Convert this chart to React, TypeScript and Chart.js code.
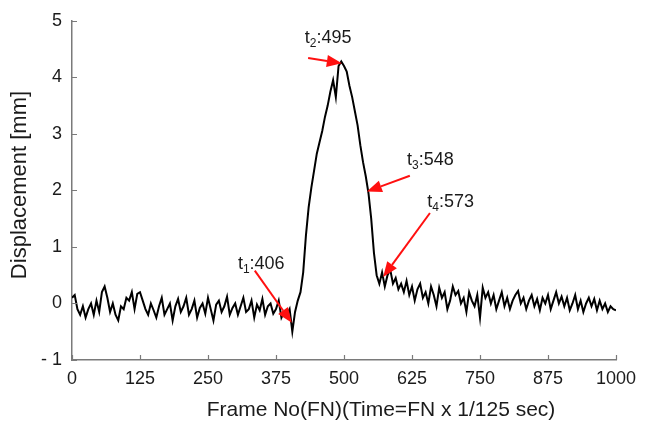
import React, { useEffect, useRef } from "react";
import { Chart, registerables } from "chart.js";

Chart.register(...registerables);

// ---------- data ----------
const X_TICKS = [0, 125, 250, 375, 500, 625, 750, 875, 1000];
const Y_TICKS = [-1, 0, 1, 2, 3, 4, 5];
const SAMPLE_STEP = 5; // frames between samples

// displacement [mm], sampled every 5 frames
const DISP_0_100 = [0.1, 0.15, -0.1, -0.2, -0.05, -0.25, -0.1, 0.0, -0.2, 0.05, -0.15, 0.2, 0.3, 0.1, -0.15, 0.0, -0.2, -0.3, -0.05, -0.1, 0.1];
const DISP_105_200 = [0.05, 0.2, -0.1, 0.17, 0.2, 0.05, -0.1, -0.2, 0.0, -0.12, -0.25, -0.05, 0.1, -0.2, -0.1, 0.0, -0.3, -0.05, 0.08, -0.15];
const DISP_205_300 = [-0.05, 0.1, -0.2, -0.1, 0.05, -0.25, -0.08, 0.0, -0.18, 0.1, -0.1, -0.3, -0.02, 0.05, -0.15, -0.05, 0.12, -0.2, -0.08, 0.0];
const DISP_305_400 = [-0.2, -0.05, 0.1, -0.15, -0.1, 0.05, -0.25, -0.02, -0.12, 0.08, -0.2, -0.05, 0.0, -0.18, -0.1, 0.05, -0.25, -0.15, -0.2, -0.1];
const DISP_405_600 = [-0.5, -0.15, 0.05, 0.2, 0.55, 1.2, 1.7, 2.05, 2.35, 2.65, 2.85, 3.05, 3.3, 3.5, 3.75, 3.95, 3.65, 4.2, 4.28, 4.2, 4.1, 3.85, 3.65, 3.4, 3.15, 2.8, 2.5, 2.25, 1.95, 1.5, 0.9, 0.5, 0.35, 0.55, 0.3, 0.5, 0.6, 0.35, 0.45, 0.25];
const DISP_605_700 = [0.35, 0.2, 0.4, 0.15, 0.3, 0.05, 0.25, 0.35, 0.1, 0.2, 0.0, 0.3, 0.15, -0.05, 0.28, 0.1, 0.2, -0.1, 0.05, 0.3];
const DISP_705_800 = [0.15, 0.22, 0.0, 0.1, -0.15, 0.2, 0.05, -0.05, 0.15, -0.25, 0.28, 0.1, 0.2, 0.0, 0.15, -0.1, 0.05, 0.2, -0.05, 0.1];
const DISP_805_900 = [-0.1, 0.05, 0.15, 0.22, 0.0, 0.1, -0.1, 0.05, 0.15, -0.05, 0.08, -0.12, 0.1, 0.0, 0.15, -0.1, 0.05, 0.2, 0.0, 0.12];
const DISP_905_1000 = [-0.05, 0.1, -0.12, 0.0, 0.15, -0.1, 0.05, -0.15, 0.0, 0.1, -0.05, 0.08, -0.12, 0.05, -0.1, 0.0, -0.15, -0.05, -0.1, -0.12];

const DISPLACEMENT = [
  ...DISP_0_100, ...DISP_105_200, ...DISP_205_300, ...DISP_305_400,
  ...DISP_405_600, ...DISP_605_700, ...DISP_705_800, ...DISP_805_900, ...DISP_905_1000,
];
const FRAMES = DISPLACEMENT.map((_, i) => i * SAMPLE_STEP);

// event markers
const MARK_SUBS = ["1", "2", "3", "4"];
const MARK_FRAMES = [406, 495, 548, 573];
// label anchor (frame, mm), arrow tail and head (frame, mm)
const LABEL_AT = [[305, 0.61], [428, 4.6], [616, 2.45], [653, 1.71]];
const ARROW_TAIL = [[336, 0.58], [434, 4.34], [621, 2.26], [658, 1.6]];
const ARROW_HEAD = [[404, -0.34], [496, 4.25], [542, 1.98], [572, 0.47]];

const X_TITLE = "Frame No(FN)(Time=FN x 1/125 sec)";
const Y_TITLE = "Displacement [mm]";

const FONT = '"Liberation Sans", Arial, Helvetica, sans-serif';
const TEXT_COLOR = "#1b1b1b";
const AXIS_COLOR = "#7a7a7a";

const decorPlugin = {
  id: "decor",
  afterDraw(chart: any) {
    const { ctx, scales, chartArea } = chart;
    const x = scales.x, y = scales.y;
    ctx.save();
    // inward ticks
    ctx.strokeStyle = AXIS_COLOR;
    ctx.lineWidth = 1.2;
    ctx.beginPath();
    X_TICKS.forEach((v) => {
      const px = Math.round(x.getPixelForValue(v)) + 0.5;
      ctx.moveTo(px, chartArea.bottom);
      ctx.lineTo(px, chartArea.bottom - 5);
    });
    Y_TICKS.forEach((v) => {
      const py = Math.round(y.getPixelForValue(v)) + 0.5;
      ctx.moveTo(chartArea.left, py);
      ctx.lineTo(chartArea.left + 5, py);
    });
    ctx.stroke();

    // arrows + labels
    for (let i = 0; i < MARK_FRAMES.length; i++) {
      const tx = x.getPixelForValue(ARROW_TAIL[i][0]);
      const ty = y.getPixelForValue(ARROW_TAIL[i][1]);
      const hx = x.getPixelForValue(ARROW_HEAD[i][0]);
      const hy = y.getPixelForValue(ARROW_HEAD[i][1]);
      const ang = Math.atan2(hy - ty, hx - tx);
      const L = 15, W = 6;
      const bx = hx - L * Math.cos(ang), by = hy - L * Math.sin(ang);
      ctx.strokeStyle = "#ff1010";
      ctx.fillStyle = "#ff1010";
      ctx.lineWidth = 2;
      ctx.beginPath();
      ctx.moveTo(tx, ty);
      ctx.lineTo(bx, by);
      ctx.stroke();
      ctx.beginPath();
      ctx.moveTo(hx, hy);
      ctx.lineTo(bx - W * Math.sin(ang), by + W * Math.cos(ang));
      ctx.lineTo(bx + W * Math.sin(ang), by - W * Math.cos(ang));
      ctx.closePath();
      ctx.fill();

      let lx = x.getPixelForValue(LABEL_AT[i][0]);
      const ly = y.getPixelForValue(LABEL_AT[i][1]);
      ctx.fillStyle = TEXT_COLOR;
      ctx.textBaseline = "alphabetic";
      ctx.textAlign = "left";
      ctx.font = `18px ${FONT}`;
      ctx.fillText("t", lx, ly);
      lx += ctx.measureText("t").width;
      ctx.font = `12px ${FONT}`;
      ctx.fillText(MARK_SUBS[i], lx, ly + 4);
      lx += ctx.measureText(MARK_SUBS[i]).width;
      ctx.font = `18px ${FONT}`;
      ctx.fillText(":" + MARK_FRAMES[i], lx, ly);
    }

    // axis titles
    ctx.fillStyle = TEXT_COLOR;
    ctx.textAlign = "center";
    ctx.textBaseline = "middle";
    ctx.font = `21px ${FONT}`;
    ctx.fillText(X_TITLE, 381, 410);
    ctx.save();
    ctx.translate(20, 185);
    ctx.rotate(-Math.PI / 2);
    ctx.font = `22px ${FONT}`;
    ctx.fillText(Y_TITLE, 0, 0);
    ctx.restore();
    ctx.restore();
  },
};

export default function App() {
  const ref = useRef<HTMLCanvasElement>(null);
  useEffect(() => {
    document.body.style.margin = "0";
    const canvas = ref.current!;
    const chart = new Chart(canvas, {
      type: "line",
      data: {
        datasets: [
          {
            data: FRAMES.map((f, i) => ({ x: f, y: DISPLACEMENT[i] })),
            borderColor: "#000000",
            borderWidth: 2,
            pointRadius: 0,
            tension: 0,
          },
        ],
      },
      options: {
        responsive: false,
        animation: false,
        devicePixelRatio: 1,
        layout: { padding: { top: 14, right: 34, left: 0, bottom: 0 } },
        plugins: { legend: { display: false }, tooltip: { enabled: false } },
        scales: {
          x: {
            type: "linear",
            min: 0,
            max: 1000,
            afterFit: (s: any) => { s.height = 67; },
            afterBuildTicks: (s: any) => { s.ticks = X_TICKS.map((v) => ({ value: v })); },
            grid: { display: false, drawTicks: false },
            border: { display: true, color: AXIS_COLOR, width: 1.5 },
            ticks: {
              color: TEXT_COLOR,
              font: { family: FONT, size: 18 },
              padding: 8,
              maxRotation: 0,
              autoSkip: false,
              callback: (v: any) => String(v),
            },
          },
          y: {
            type: "linear",
            min: -1,
            max: 5,
            afterFit: (s: any) => { s.width = 72; },
            afterBuildTicks: (s: any) => { s.ticks = Y_TICKS.map((v) => ({ value: v })); },
            grid: { display: false, drawTicks: false },
            border: { display: true, color: AXIS_COLOR, width: 1.5 },
            ticks: {
              color: TEXT_COLOR,
              font: { family: FONT, size: 18 },
              padding: 10,
              callback: (v: any) => (v < 0 ? "- " + Math.abs(v) : String(v)),
            },
          },
        },
      },
      plugins: [decorPlugin],
    });
    return () => chart.destroy();
  }, []);
  return (
    <div style={{ width: 650, height: 427 }}>
      <canvas ref={ref} width={650} height={427} style={{ display: "block" }} />
    </div>
  );
}
